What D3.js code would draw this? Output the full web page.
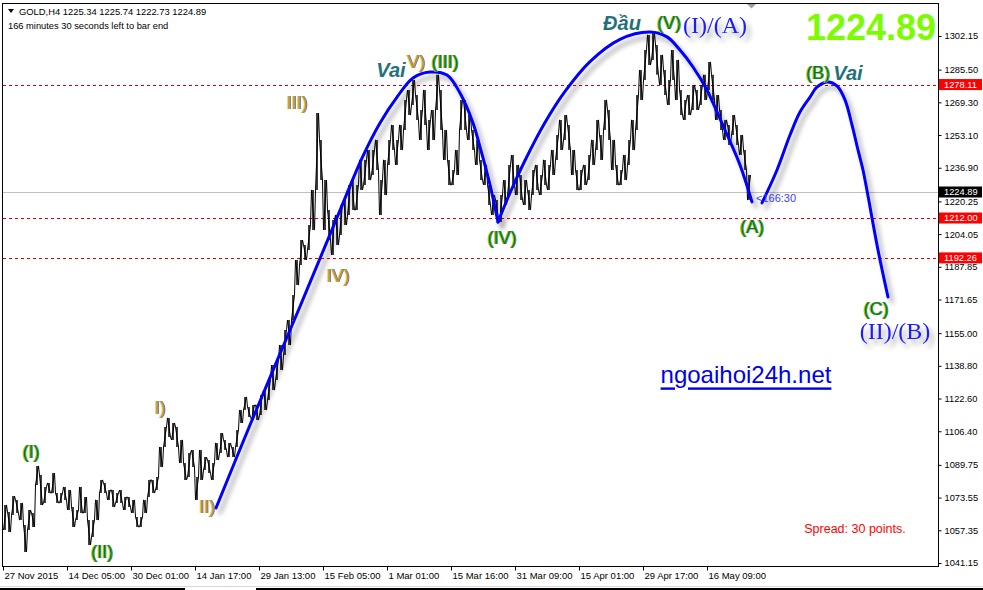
<!DOCTYPE html>
<html><head><meta charset="utf-8">
<script src="https://cdn.jsdelivr.net/npm/d3@7/dist/d3.min.js"></script>
<style>body{margin:0;background:#fff;}svg{display:block;}</style>
</head><body>
<svg id="chart" width="983" height="590"></svg>
<script>
// ---------------- DATA ----------------
const headerTitle = "GOLD,H4  1225.34 1225.74 1222.73 1224.89";
const headerTimer = "166 minutes 30 seconds left to bar end";

const priceTicks = [1302.15,1285.50,1269.30,1253.10,1236.90,1220.25,1204.05,1187.85,1171.65,1155.00,1138.80,1122.60,1106.40,1089.75,1073.55,1057.35,1041.15];
const timeLabels = ["27 Nov 2015","14 Dec 05:00","30 Dec 01:00","14 Jan 17:00","29 Jan 13:00","15 Feb 05:00","1 Mar 01:00","15 Mar 16:00","31 Mar 09:00","15 Apr 01:00","29 Apr 17:00","16 May 09:00"];
const timeLabelBars = [0,64,128,192,256,320,384,448,512,576,640,704];

// price samples (every 4 H4 bars, starting at bar 2): highs and lows
const sampleStart = 2, sampleStep = 4;
const highs = [1069.9,1066.4,1074.3,1072.4,1070.9,1060.0,1067.4,1065.9,1089.2,1084.7,
1078.8,1080.8,1085.7,1075.8,1075.8,1078.8,1077.3,1068.9,1067.4,1078.8,
1073.8,1062.4,1062.4,1072.4,1082.3,1080.8,1077.3,1077.3,1075.8,1077.3,
1073.8,1073.8,1072.4,1063.9,1063.9,1072.4,1082.3,1082.3,1083.7,1098.6,
1108.5,1113.0,1110.5,1108.5,1102.1,1090.7,1095.6,1097.1,1083.7,1097.1,
1093.6,1092.2,1090.7,1100.6,1105.5,1102.1,1100.6,1098.6,1107.0,1116.9,
1123.4,1118.4,1119.4,1119.4,1124.4,1126.8,1131.8,1139.2,1141.7,1149.1,
1156.6,1161.5,1173.9,1191.2,1201.1,1198.7,1208.6,1225.9,1264.0,1250.7,
1230.8,1216.0,1211.0,1213.5,1218.5,1220.9,1228.4,1230.8,1228.4,1240.8,
1240.8,1245.7,1245.7,1250.7,1230.8,1240.8,1250.7,1258.1,1250.7,1258.1,
1270.5,1275.4,1280.4,1272.9,1265.5,1275.4,1260.6,1265.5,1282.9,1275.4,
1255.6,1240.8,1235.8,1245.7,1270.5,1270.5,1263.0,1255.6,1250.7,1240.8,
1238.3,1228.4,1223.4,1220.9,1223.4,1230.8,1238.3,1243.2,1238.3,1233.3,
1230.8,1225.9,1235.8,1238.3,1233.3,1240.8,1238.3,1245.7,1253.1,1260.6,
1263.0,1258.1,1245.7,1235.8,1235.8,1238.3,1243.2,1250.7,1260.6,1253.1,
1270.5,1265.5,1250.7,1238.3,1235.8,1243.2,1250.7,1260.6,1272.9,1285.3,
1295.2,1302.7,1303.7,1297.7,1292.8,1285.3,1280.4,1295.2,1290.3,1275.4,
1270.5,1272.9,1277.9,1275.4,1277.9,1282.9,1289.3,1282.9,1272.9,1265.5,
1260.6,1258.1,1263.0,1258.1,1253.1,1245.7,1233.3];
const lows = [1057.5,1056.5,1064.9,1065.9,1062.4,1046.6,1057.5,1059.0,1079.8,1069.9,
1070.9,1075.8,1075.8,1070.9,1070.9,1072.4,1067.4,1059.0,1062.4,1065.9,
1065.9,1050.1,1054.0,1062.4,1075.8,1075.8,1072.4,1068.9,1070.9,1070.9,
1067.4,1068.9,1065.9,1059.0,1059.0,1065.9,1073.8,1075.8,1077.3,1088.7,
1098.6,1103.6,1102.1,1098.6,1090.7,1082.3,1083.7,1088.7,1072.4,1082.3,
1087.2,1085.7,1082.3,1092.2,1095.6,1097.1,1093.6,1093.6,1098.6,1110.5,
1116.9,1113.5,1112.0,1112.0,1114.4,1116.9,1121.9,1126.8,1131.8,1136.7,
1144.2,1149.1,1161.5,1178.8,1188.7,1191.2,1196.2,1206.1,1225.9,1230.8,
1206.1,1201.1,1193.7,1198.7,1203.6,1208.6,1213.5,1216.0,1216.0,1225.9,
1228.4,1230.8,1233.3,1235.8,1213.5,1223.4,1238.3,1245.7,1238.3,1245.7,
1255.6,1263.0,1268.0,1260.6,1250.7,1258.1,1245.7,1250.7,1265.5,1255.6,
1240.8,1228.4,1228.4,1233.3,1255.6,1255.6,1250.7,1245.7,1238.3,1230.8,
1228.4,1218.5,1213.5,1212.0,1210.0,1218.5,1223.4,1228.4,1223.4,1220.9,
1218.5,1216.0,1223.4,1225.9,1223.4,1228.4,1225.9,1233.3,1240.8,1245.7,
1250.7,1245.7,1233.3,1225.9,1225.9,1228.4,1230.8,1238.3,1245.7,1240.8,
1255.6,1250.7,1235.8,1228.4,1228.4,1230.8,1238.3,1245.7,1255.6,1270.5,
1280.4,1287.8,1290.3,1282.9,1277.9,1272.9,1268.0,1280.4,1270.5,1263.0,
1260.6,1263.0,1265.5,1265.5,1268.0,1270.5,1275.4,1270.5,1260.6,1255.6,
1250.7,1248.2,1253.1,1248.2,1243.2,1235.8,1220.9];

const levelLines = [1278.11, 1212.00, 1192.26];
const lastPrice = 1224.89;

// hand-drawn wave projection (bar index, price)
const waveUp = [[213,1068.4],[247,1109.5],[297,1168.2],[337,1215.8],[359,1241.7],[377,1259.1],[394,1271.9],[410,1281.4],[427,1284.3],[444,1282.8],[457,1273.9],[470,1259.1],[477,1247.2],[487,1228.4],[495,1210.0]];
const waveHead = [[495,1210.0],[507,1224.4],[522,1240.5],[542,1259.3],[562,1274.7],[587,1289.5],[617,1300.5],[647,1304.1],[664,1301.7],[677,1295.2],[690,1286.8],[704,1275.4],[710,1269.0],[722,1255.6],[737,1238.3],[749,1220.0]];
const waveProj = [[759,1219.5],[774,1235.8],[787,1253.1],[797,1264.5],[807,1271.9],[814,1276.9],[825,1279.4],[834,1277.4],[842,1270.5],[849,1258.1],[855,1245.7],[860,1235.8],[875,1196.2],[885,1172.9]];

// wave labels: text, bar, price
const greenLabels = [["(I)",28,1096.1],["(II)",99,1046.6],["(III)",442,1289.3],["(IV)",499,1202.1],["(V)",666,1308.6],["(A)",749,1207.6],["(B)",815,1283.8],["(C)",873,1167.0]];
const goldLabels = [["I)",157,1117.9],["II)",204,1068.9],["III)",294,1269.0],["IV)",335,1183.3],["V)",413,1289.3]];
const patternLabels = [["Vai",388,1285.3],["Đầu",619,1308.6],["Vai",845,1283.8]];
const degreeLabels = [["(II)/(B)",892,1156.0],["(I)/(A)",712,1307.6]];
const bigPriceLabel = ["1224.89",868,1306.6];
const timerLabel = ["<166:30",753,1221.9];
const siteLabel = ["ngoaihoi24h.net",743,1134.3];
const spreadLabel = ["Spread: 30 points.",852,1058.0];

// ---------------- DRAW ----------------
const svg = d3.select("#chart");
const W = 983, H = 590;
const L = 3, R = 938, T = 3, B = 566;
const x = d3.scaleLinear().domain([0, 935]).range([L, R]);
const y = d3.scaleLinear().domain([1041.15, 1302.15]).range([563, 36]);

const defs = svg.append("defs");
const f = defs.append("filter").attr("id","shadow").attr("x","-20%").attr("y","-20%").attr("width","140%").attr("height","140%");
f.append("feDropShadow").attr("dx",4).attr("dy",5).attr("stdDeviation",2.5).attr("flood-color","#000").attr("flood-opacity",0.35);
defs.append("clipPath").attr("id","plot").append("rect").attr("x",L).attr("y",T).attr("width",R-L).attr("height",B-T);

function fringeFilter(id, leftC, rightC){
  const fl = defs.append("filter").attr("id",id).attr("x","-10%").attr("y","-10%").attr("width","120%").attr("height","120%");
  fl.append("feFlood").attr("flood-color",leftC).attr("result","c1");
  fl.append("feComposite").attr("in","c1").attr("in2","SourceAlpha").attr("operator","in").attr("result","m1");
  fl.append("feOffset").attr("in","m1").attr("dx",-0.8).attr("dy",0).attr("result","o1");
  fl.append("feFlood").attr("flood-color",rightC).attr("result","c2");
  fl.append("feComposite").attr("in","c2").attr("in2","SourceAlpha").attr("operator","in").attr("result","m2");
  fl.append("feOffset").attr("in","m2").attr("dx",0.8).attr("dy",0).attr("result","o2");
  const mg = fl.append("feMerge");
  mg.append("feMergeNode").attr("in","o1");
  mg.append("feMergeNode").attr("in","o2");
  mg.append("feMergeNode").attr("in","SourceGraphic");
}
fringeFilter("fg","#e0c000","#20a8b0");
fringeFilter("fy","#f0d060","#5a70c0");

svg.append("rect").attr("width",W).attr("height",H).attr("fill","#fff");

// bottom tab strip
svg.append("line").attr("x1",0).attr("x2",W).attr("y1",586.5).attr("y2",586.5).attr("stroke","#d8d8d8");
svg.append("line").attr("x1",0).attr("x2",185).attr("y1",589).attr("y2",589).attr("stroke","#000").attr("stroke-width",2);
svg.append("line").attr("x1",256).attr("x2",W).attr("y1",589).attr("y2",589).attr("stroke","#000").attr("stroke-width",2);

const plot = svg.append("g").attr("clip-path","url(#plot)");

// level lines
plot.selectAll(".lvl").data(levelLines).join("line")
  .attr("x1",L).attr("x2",R).attr("y1",d=>Math.round(y(d))+0.5).attr("y2",d=>Math.round(y(d))+0.5)
  .attr("stroke","#e00000").attr("stroke-dasharray","3,3");
// bid line
plot.append("line").attr("x1",L).attr("x2",R).attr("y1",Math.round(y(lastPrice))+0.5).attr("y2",Math.round(y(lastPrice))+0.5)
  .attr("stroke","#c0c0c0");

// price samples
const samples = highs.map((h,i)=>({bar: sampleStart + i*sampleStep, hi: h, lo: lows[i]}));
const zig = [];
samples.forEach((s,i)=>{ if(i%2===0){zig.push([s.bar-1.5,s.lo]);zig.push([s.bar+1.5,s.hi]);} else {zig.push([s.bar-1.5,s.hi]);zig.push([s.bar+1.5,s.lo]);} });
plot.append("path").datum(zig).attr("fill","none").attr("stroke","#000").attr("stroke-width",1)
  .attr("d", d3.line().x(d=>x(d[0])).y(d=>y(d[1])));
plot.selectAll(".bar").data(samples).join("line")
  .attr("x1",d=>x(d.bar)).attr("x2",d=>x(d.bar)).attr("y1",d=>y(d.hi)).attr("y2",d=>y(d.lo))
  .attr("stroke","#000").attr("stroke-width",1.5);

// wave projection lines
const waveLine = d3.line().x(d=>x(d[0])).y(d=>y(d[1])).curve(d3.curveCatmullRom.alpha(0.5));
[waveUp, waveHead, waveProj].forEach(w=>{
  plot.append("path").datum(w).attr("d",waveLine).attr("fill","none")
    .attr("stroke","#0000ff").attr("stroke-width",3).attr("stroke-linecap","round").attr("filter","url(#shadow)");
});

// labels
const sans = "'Liberation Sans', Arial, sans-serif";
function waveText(arr, color, filt){
  plot.selectAll(null).data(arr).join("text")
    .attr("x",d=>x(d[1])).attr("y",d=>y(d[2])).attr("text-anchor","middle").attr("dominant-baseline","central")
    .attr("font-family",sans).attr("font-size",18).attr("fill",color).attr("filter",`url(#${filt})`).text(d=>d[0]);
}
waveText(greenLabels, "#008000", "fg");
waveText(goldLabels, "#c99a00", "fy");

patternLabels.forEach(([t,b,p])=>{
  plot.append("text").attr("x",x(b)).attr("y",y(p)).attr("text-anchor","middle").attr("dominant-baseline","central")
    .attr("font-family",sans).attr("font-size",20).attr("font-weight","bold").attr("font-style","italic")
    .attr("fill","#22707a").text(t);
});
degreeLabels.forEach(([t,b,p])=>{
  plot.append("text").attr("x",x(b)).attr("y",y(p)).attr("text-anchor","middle").attr("dominant-baseline","central")
    .attr("font-family","'Liberation Serif','Times New Roman',serif").attr("font-size",24)
    .attr("fill","#1a1aff").attr("filter","url(#shadow)").text(t);
});
plot.append("text").attr("x",x(bigPriceLabel[1])).attr("y",y(bigPriceLabel[2])).attr("text-anchor","middle").attr("dominant-baseline","central")
  .attr("font-family",sans).attr("font-size",36).attr("font-weight","bold").attr("fill","#7cfc00").text(bigPriceLabel[0]);
plot.append("text").attr("x",x(timerLabel[1])).attr("y",y(timerLabel[2])).attr("dominant-baseline","central")
  .attr("font-family",sans).attr("font-size",11).attr("fill","#3a3aff").text(timerLabel[0]);
plot.append("text").attr("x",x(siteLabel[1])).attr("y",y(siteLabel[2])).attr("text-anchor","middle").attr("dominant-baseline","central")
  .attr("font-family",sans).attr("font-size",24).attr("fill","#0000ee").attr("text-decoration","underline").text(siteLabel[0]);
plot.append("text").attr("x",x(spreadLabel[1])).attr("y",y(spreadLabel[2])).attr("text-anchor","middle").attr("dominant-baseline","central")
  .attr("font-family",sans).attr("font-size",12.5).attr("fill","#ff0000").text(spreadLabel[0]);

// header
plot.append("path").attr("d","M8,9 L14,9 L11,13 Z").attr("fill","#000");
plot.append("text").attr("x",19).attr("y",15).attr("font-family",sans).attr("font-size",9.4).attr("fill","#000").text(headerTitle);
plot.append("text").attr("x",8).attr("y",28.5).attr("font-family",sans).attr("font-size",9.3).attr("fill","#000").text(headerTimer);
// shift marker
svg.append("path").attr("d","M747,4 L756,4 L751.5,8.5 Z").attr("fill","#a0a0a0");

// frame
svg.append("rect").attr("x",L-0.5).attr("y",T+0.5).attr("width",R-L+1).attr("height",B-T).attr("fill","none").attr("stroke","#000");

// right axis
const yAxis = d3.axisRight(y).tickValues(priceTicks).tickFormat(d3.format(".2f")).tickSize(3).tickPadding(3);
const ya = svg.append("g").attr("transform",`translate(${R+0.5},0)`).call(yAxis);
ya.select(".domain").remove();
ya.selectAll("text").attr("font-family",sans).attr("font-size",9.3).attr("fill","#000");
ya.selectAll("line").attr("stroke","#000");

// price boxes on right axis
const boxes = levelLines.map(v=>({v, bg:"#ff0000"})).concat([{v:lastPrice, bg:"#000"}]);
const bg = svg.selectAll(".pbox").data(boxes).join("g");
bg.append("rect").attr("x",R+1).attr("y",d=>y(d.v)-5.5).attr("width",W-R-2).attr("height",11).attr("fill",d=>d.bg);
bg.append("text").attr("x",R+6).attr("y",d=>y(d.v)).attr("dominant-baseline","central")
  .attr("font-family",sans).attr("font-size",9.3).attr("fill","#fff").text(d=>d.v.toFixed(2));

// bottom axis
const xAxis = d3.axisBottom(x).tickValues(timeLabelBars).tickFormat((d,i)=>timeLabels[i]).tickSize(4).tickPadding(2);
const xa = svg.append("g").attr("transform",`translate(0,${B+0.5})`).call(xAxis);
xa.select(".domain").remove();
xa.selectAll("text").attr("text-anchor","start").attr("dx",1).attr("font-family",sans).attr("font-size",9.5).attr("fill","#000");
xa.selectAll("line").attr("stroke","#000");
</script>
</body></html>
